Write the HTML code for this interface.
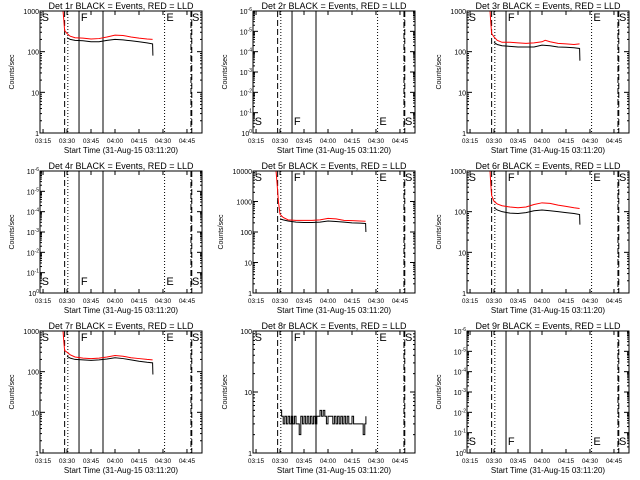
<!DOCTYPE html>
<html><head><meta charset="utf-8"><style>
html,body{margin:0;padding:0;background:#fff;}
svg{display:block;font-family:"Liberation Sans",sans-serif;}
</style></head><body>
<svg id="c" width="640" height="480" viewBox="0 0 640 480"></svg>
<script>
// x-axis ticks (minutes after 03:00) and labels
const tickMinutes = [15, 30, 45, 60, 75, 90, 105];
const tickLabels = ["03:15","03:30","03:45","04:00","04:15","04:30","04:45"];
// marker lines (minutes after 03:00)
const markerTimes = [28.5, 30.5, 37.5, 52.5, 91, 107.5, 108];
const markerStyles = ["dash","dot","solid","solid","dot","dashdot","dash"];
const markerLetters = ["S","F","E","S"];
const markerLetterTimes = [13.5, 38, 91.5, 107.5];
// panel 1
const p1Time = [27.5,28,28.5,30,32,35,40,45,50,55,60,65,70,75,80,83.5];
const p1Red = [1000,600,330,280,240,220,215,205,210,230,255,250,230,215,205,200];
const p1BlackTime = [30,32,35,40,45,50,55,60,65,70,75,80,83.5,83.7];
const p1Black = [220,200,190,185,175,175,190,200,195,185,175,165,155,80];
// panel 3
const p3Time = [27.5,28,28.5,30,32,35,40,45,50,55,60,62,65,70,75,80,83.5];
const p3Red = [1000,500,280,230,190,170,170,165,160,165,175,190,175,160,155,150,155];
const p3BlackTime = [30,32,35,40,45,50,55,60,65,70,75,80,83.5,83.7];
const p3Black = [170,150,140,135,130,130,130,145,140,130,128,125,120,60];
// panel 5
const p5Time = [27.5,28,29,30,32,35,40,45,50,55,60,65,70,75,80,83.5];
const p5Red = [10000,5000,1000,380,300,250,240,240,240,250,280,270,240,235,230,225];
const p5BlackTime = [30,32,35,40,45,50,55,60,65,70,75,80,83.5,83.7];
const p5Black = [270,250,230,210,205,205,210,230,220,210,200,195,190,100];
// panel 6
const p6Time = [27.5,28,28.5,30,32,35,40,45,50,55,60,65,70,75,80,83.5];
const p6Red = [1000,450,250,180,155,140,130,125,130,150,165,160,145,135,125,120];
const p6BlackTime = [30,32,35,40,45,50,55,60,65,70,75,80,83.5,83.7];
const p6Black = [125,110,100,92,90,95,105,110,105,100,95,90,85,48];
// panel 7
const p7Time = [27.5,28,28.5,30,32,35,40,45,50,55,60,65,70,75,80,83.5];
const p7Red = [1000,550,330,300,260,230,215,210,215,230,250,240,220,210,200,195];
const p7BlackTime = [30,32,35,40,45,50,55,60,65,70,75,80,83.5,83.7];
const p7Black = [240,215,200,195,190,195,205,220,210,195,180,170,165,85];
// panel 8 (noisy counts)
const p8Time = [30,31,32,33,34,35,36,37,38,39,40,41,42,43,44,45,46,47,48,49,50,51,52,53,54,55,56,57,58,59,60,61,62,63,64,65,66,67,68,69,70,71,72,73,74,75,76,77,78,79,80,81,82,83,83.7];
const p8Black = [5,4,3,4,3,4,3,4,3,4,3,3,2,4,3,4,3,4,3,4,3,4,3,4,4,5,4,5,4,3,4,4,4,3,4,3,4,3,4,3,4,3,4,3,3,4,3,3,3,3,3,3,2,3,4];

const NS="http://www.w3.org/2000/svg";
const svg=document.getElementById('c');
function el(tag,attrs,parent){const e=document.createElementNS(NS,tag);for(const k in attrs)e.setAttribute(k,attrs[k]);(parent||svg).appendChild(e);return e;}

const panels=[
 {n:1,ymin:0,ymax:3,red:[p1Time,p1Red],black:[p1BlackTime,p1Black]},
 {n:2,ymin:0,ymax:6,empty:true},
 {n:3,ymin:0,ymax:3,red:[p3Time,p3Red],black:[p3BlackTime,p3Black]},
 {n:4,ymin:0,ymax:6,empty:true},
 {n:5,ymin:0,ymax:4,red:[p5Time,p5Red],black:[p5BlackTime,p5Black]},
 {n:6,ymin:0,ymax:3,red:[p6Time,p6Red],black:[p6BlackTime,p6Black]},
 {n:7,ymin:0,ymax:3,red:[p7Time,p7Red],black:[p7BlackTime,p7Black]},
 {n:8,ymin:0,ymax:2,black:[p8Time,p8Black],step:true},
 {n:9,ymin:0,ymax:6,empty:true}
];
const X0=40,X1=202,Y0=11,Y1=133,TMIN=13.1,TMAX=114.4;
panels.forEach((p,i)=>{
  const ox=Math.round((i%3)*213.3), oy=Math.floor(i/3)*160;
  const g=el('g',{transform:`translate(${ox},${oy})`});
  
  
  const xs=t=>X0+(t-TMIN)/(TMAX-TMIN)*(X1-X0);
  const ys=v=>{let l=Math.log10(Math.max(v,1e-9));return Y1-(l-p.ymin)/(p.ymax-p.ymin)*(Y1-Y0);};
  const ysExp=e=>Y1-(e-p.ymin)/(p.ymax-p.ymin)*(Y1-Y0);
  const tt=el('text',{x:121,y:9,'font-size':9,'text-anchor':'middle'},g);
  tt.textContent=`Det ${p.n}r BLACK = Events, RED = LLD`;
  
  
  markerTimes.forEach((t,k)=>{
    const st=markerStyles[k];
    const da=st==='dash'?'6,3':st==='dot'?'1,2':st==='dashdot'?'6,2,1,2':'';
    const ln=el('line',{x1:xs(t),x2:xs(t),y1:Y0,y2:Y1,stroke:'#000','stroke-width':1,'stroke-dasharray':da},g);
    
    
  });
  const ly=p.empty?Y1-8:Y0+10;
  markerLetters.forEach((L,k)=>{
    const tx=el('text',{x:xs(markerLetterTimes[k])+1,y:ly,'font-size':11},g);
    tx.textContent=L;
    
    
  });
  function path(arr,color,step){
    const [T,V]=arr;let d='';
    T.forEach((t,k)=>{const x=xs(t),y=ys(V[k]);
      if(k===0)d+=`M${x},${y}`;else if(step)d+=`H${x}V${y}`;else d+=`L${x},${y}`;});
    return el('path',{d:d,fill:'none',stroke:color,'stroke-width':1},g);
  }
  if(p.red){const r=path(p.red,'#ff0000');
    
    }
  if(p.black){const b=path(p.black,'#000',p.step);
    
    }
  const fr=el('rect',{x:X0,y:Y0,width:X1-X0,height:Y1-Y0,fill:'none',stroke:'#000','stroke-width':1},g);
  
  
  tickMinutes.forEach((t,k)=>{
    const x=xs(t);
    el('line',{x1:x,x2:x,y1:Y1,y2:Y1-4,stroke:'#000'},g);
    el('line',{x1:x,x2:x,y1:Y0,y2:Y0+4,stroke:'#000'},g);
    const tx=el('text',{x:x,y:Y1+10,'font-size':6.5,'text-anchor':'middle'},g);
    tx.textContent=tickLabels[k];
    
    
  });
  for(let e=p.ymin;e<=p.ymax;e++){
    const y=ysExp(e);
    el('line',{x1:X0,x2:X0+5,y1:y,y2:y,stroke:'#000'},g);
    el('line',{x1:X1,x2:X1-5,y1:y,y2:y,stroke:'#000'},g);
    if(e<p.ymax)for(let m=2;m<10;m++){const yy=ysExp(e+Math.log10(m));
      el('line',{x1:X0,x2:X0+2,y1:yy,y2:yy,stroke:'#000'},g);
      el('line',{x1:X1,x2:X1-2,y1:yy,y2:yy,stroke:'#000'},g);}
    const tx=el('text',{x:X0-1,y:y+3,'font-size':7,'text-anchor':'end'},g);
    if(p.empty){tx.innerHTML=e===0?'10<tspan dy="-3" font-size="5">0</tspan>':'10<tspan dy="-3" font-size="5">-'+e+'</tspan>';}
    else tx.textContent=String(Math.pow(10,e));
    
    
  }
  const xt=el('text',{x:121,y:153,'font-size':8,'text-anchor':'middle'},g);
  xt.textContent='Start Time (31-Aug-15 03:11:20)';
  
  
  const yt=el('text',{x:0,y:0,'font-size':7,'text-anchor':'middle',transform:`translate(${p.n===5?10:14},72) rotate(-90)`},g);
  yt.textContent='Counts/sec';
  
  
});
</script>
</body></html>
